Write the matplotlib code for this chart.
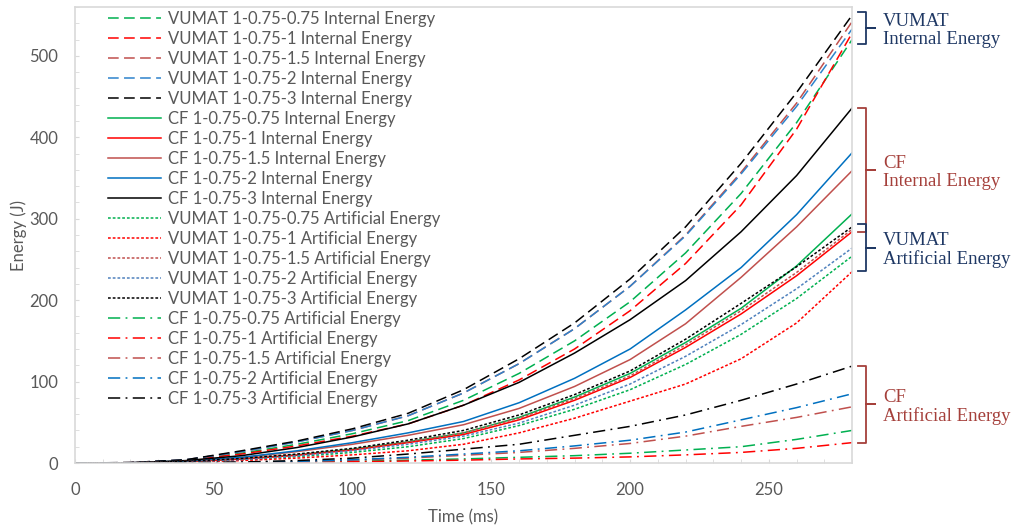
import numpy as np
import matplotlib.pyplot as plt
import matplotlib.transforms as mtransforms
from matplotlib.ticker import MultipleLocator

plt.rcParams['font.family'] = ['Lato', 'DejaVu Sans']

time_ms = [0, 20, 40, 60, 80, 100, 120, 140, 160, 180, 200, 220, 240, 260, 280]

# VUMAT internal energy (dashed)
vumat_ie_075 = [0, 0.4, 3.5, 12, 23, 36, 52, 77, 110, 150, 198, 258, 331, 418, 520]
vumat_ie_1 = [0, 0.4, 3.5, 11, 21, 33, 48, 71, 102, 140, 187, 245, 317, 410, 528]
vumat_ie_15 = [0, 0.5, 4, 14, 26, 40, 58, 86, 122, 165, 217, 280, 357, 442, 542]
vumat_ie_2 = [0, 0.5, 4, 14, 26, 40, 58, 86, 122, 165, 217, 279, 355, 438, 533]
vumat_ie_3 = [0, 0.5, 4, 15, 27, 42, 61, 90, 128, 172, 226, 290, 368, 455, 550]

# CF internal energy (solid)
cf_ie_075 = [0, 0.2, 1.8, 5, 10, 17, 26, 37, 56, 81, 110, 148, 190, 242, 306]
cf_ie_1 = [0, 0.2, 1.7, 4.8, 9.5, 16, 25, 35, 53, 77, 105, 142, 183, 230, 284]
cf_ie_15 = [0, 0.3, 2.2, 6.5, 14, 23, 34, 47, 67, 94, 127, 171, 228, 290, 359]
cf_ie_2 = [0, 0.3, 2.5, 7, 15, 25, 37, 51, 74, 104, 140, 188, 240, 305, 381]
cf_ie_3 = [0, 0.3, 3, 9, 19, 32, 48, 71, 99, 135, 176, 224, 284, 353, 436]

# VUMAT artificial energy (dotted)
vumat_ae_075 = [0, 0.2, 1.3, 3.8, 7.8, 13, 20, 30, 46, 66, 90, 121, 158, 202, 254]
vumat_ae_1 = [0, 0.2, 1, 3, 6, 10, 15, 23, 37, 55, 76, 97, 128, 172, 235]
vumat_ae_15 = [0, 0.3, 2, 5.2, 10.5, 17, 26, 37, 55, 79, 107, 145, 187, 234, 287]
vumat_ae_2 = [0, 0.2, 1.5, 4.3, 8.8, 15, 23, 33, 49, 71, 97, 131, 170, 214, 264]
vumat_ae_3 = [0, 0.3, 2, 5.5, 11, 18, 28, 40, 59, 84, 113, 152, 196, 241, 290]

# CF artificial energy (dash-dot)
cf_ae_075 = [0, 0, 0.1, 0.4, 1, 2, 3.5, 5, 7, 9, 12, 16, 20, 29, 40]
cf_ae_1 = [0, 0, 0.1, 0.3, 0.8, 1.5, 2.5, 3.5, 5, 6, 7.5, 10, 13, 18, 25]
cf_ae_15 = [0, 0, 0.2, 0.7, 1.8, 3.5, 6, 9.5, 13, 18, 24, 33, 45, 56, 69]
cf_ae_2 = [0, 0, 0.2, 0.8, 2, 4, 7, 11, 15, 21, 28, 38, 53, 68, 85]
cf_ae_3 = [0, 0, 0.3, 1.2, 3, 6, 11, 17, 23, 34, 45, 59, 77, 97, 119]

cases = ['0.75', '1', '1.5', '2', '3']
green, red, brown, black = '#00b050', '#ff0000', '#c0504d', '#000000'

series = [
    ('VUMAT 1-0.75-{} Internal Energy', [vumat_ie_075, vumat_ie_1, vumat_ie_15, vumat_ie_2, vumat_ie_3],
     [green, red, brown, '#2e83cc', black], (0, (7, 3.5))),
    ('CF 1-0.75-{} Internal Energy', [cf_ie_075, cf_ie_1, cf_ie_15, cf_ie_2, cf_ie_3],
     [green, red, brown, '#0070c0', black], '-'),
    ('VUMAT 1-0.75-{} Artificial Energy', [vumat_ae_075, vumat_ae_1, vumat_ae_15, vumat_ae_2, vumat_ae_3],
     [green, red, brown, '#4f81bd', black], (0, (1.8, 1.3))),
    ('CF 1-0.75-{} Artificial Energy', [cf_ae_075, cf_ae_1, cf_ae_15, cf_ae_2, cf_ae_3],
     [green, red, brown, '#0070c0', black], (0, (8, 3.5, 1.2, 3.5))),
]

fig = plt.figure(figsize=(10.12, 5.28), dpi=100)
ax = fig.add_axes([0.0741, 0.1231, 0.7679, 0.8636])

for label, data, colors, ls in series:
    for case, y, c in zip(cases, data, colors):
        ax.plot(time_ms, y, color=c, linestyle=ls, linewidth=1.1, label=label.format(case))

ax.set_xlim(0, 280)
ax.set_ylim(0, 560)
ax.xaxis.set_major_locator(MultipleLocator(50))
ax.xaxis.set_minor_locator(MultipleLocator(10))
ax.yaxis.set_major_locator(MultipleLocator(100))
ax.yaxis.set_minor_locator(MultipleLocator(20))
ax.tick_params(which='both', direction='in', length=3, color='#d9d9d9', labelcolor='#595959', labelsize=12)
ax.tick_params(axis='x', pad=14)
ax.tick_params(axis='y', pad=12)
for s in ax.spines.values():
    s.set_color('#d9d9d9')
    s.set_linewidth(1.2)

ax.set_xlabel('Time (ms)', color='#595959', fontsize=12, labelpad=8)
ax.set_ylabel('Energy (J)', color='#595959', fontsize=12, labelpad=2)

ax.legend(loc='upper left', bbox_to_anchor=(0.037, 1.0), frameon=False, fontsize=12,
          labelcolor='#595959', handlelength=3.2, handletextpad=0.42, labelspacing=0.24,
          borderaxespad=0.0, borderpad=0.25)

# right-side braces
navy, dred = '#1f3864', '#a5403b'
tr = mtransforms.blended_transform_factory(ax.transAxes, ax.transData)
braces = [
    (514, 554, 'VUMAT\nInternal Energy', navy),
    (284, 436, 'CF\nInternal Energy', dred),
    (236, 293, 'VUMAT\nArtificial Energy', navy),
    (25, 119, 'CF\nArtificial Energy', dred),
]
x0, x1, x2 = 1.008, 1.018, 1.029
for lo, hi, txt, c in braces:
    mid = (lo + hi) / 2
    ax.plot([x0, x1, x1, x2, x1, x1, x0], [hi, hi, mid, mid, mid, lo, lo],
            transform=tr, color=c, linewidth=1.3, clip_on=False)
    ax.text(x2 + 0.011, mid - 3, txt, transform=tr, color=c, fontsize=13.5,
            family='Liberation Serif', va='center', ha='left', linespacing=1.12)

fig.savefig('out.png', dpi=100)
